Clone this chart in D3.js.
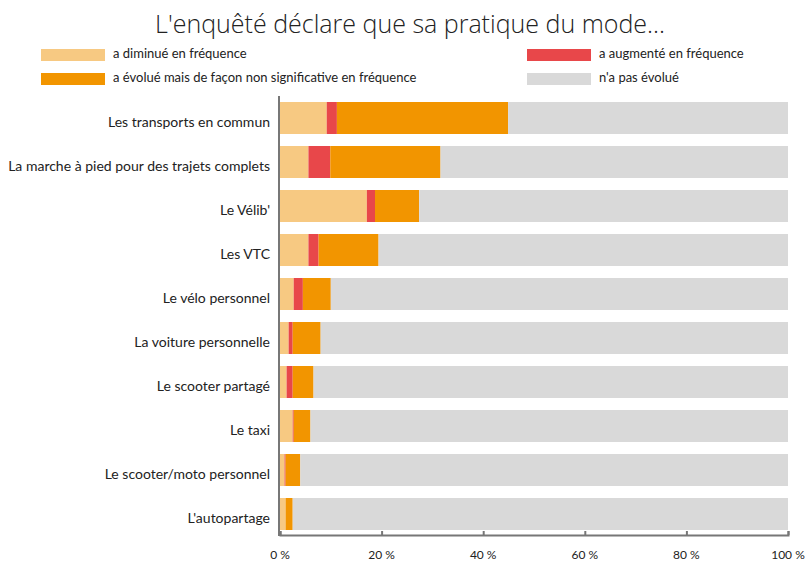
<!DOCTYPE html>
<html>
<head>
<meta charset="utf-8">
<script src="https://cdn.jsdelivr.net/npm/d3@7"></script>
<style>
  body { margin: 0; background: #fff; }
  svg text { font-family: Lato, "Open Sans", sans-serif; fill: #222; }
  .title { font-family: "Open Sans", sans-serif; font-weight: 300; }
</style>
</head>
<body>
<div id="chart"></div>
<script>
const w = 809, h = 561;
const margin = {top: 96, right: 21, bottom: 25, left: 280};

const categories = ["Les transports en commun", "La marche à pied pour des trajets complets", "Le Vélib'", "Les VTC",
  "Le vélo personnel", "La voiture personnelle", "Le scooter partagé", "Le taxi",
  "Le scooter/moto personnel", "L'autopartage"];
const diminue   = [9.2, 5.6, 17.1, 5.6, 2.7, 1.7, 1.3, 2.5, 0.9, 1.1];
const augmente  = [2.0, 4.3, 1.6, 2.0, 1.8, 0.8, 1.2, 0.2, 0.2, 0.0];
const nonSignif = [33.7, 21.7, 8.7, 11.8, 5.5, 5.5, 4.1, 3.3, 2.9, 1.4];
const pasEvolue = [55.1, 68.4, 72.6, 80.6, 90.0, 92.0, 93.4, 94.0, 96.0, 97.5];
const xTicks = [0, 20, 40, 60, 80, 100];

const keys = ["diminue", "augmente", "nonSignif", "pasEvolue"];
const labels = {
  diminue: "a diminué en fréquence",
  augmente: "a augmenté en fréquence",
  nonSignif: "a évolué mais de façon non significative en fréquence",
  pasEvolue: "n'a pas évolué"
};
const color = d3.scaleOrdinal()
                .domain(keys)
                .range(["#f7c982", "#e8474a", "#f29500", "#d9d9d9"]);

const table = categories.map((c, i) => ({
  name: c, diminue: diminue[i], augmente: augmente[i], nonSignif: nonSignif[i], pasEvolue: pasEvolue[i]
}));

const svg = d3.select('#chart')
              .append('svg')
              .attr('width', w)
              .attr('height', h);

svg.append('text')
   .attr('class', 'title')
   .attr('x', 410)
   .attr('y', 33)
   .attr('text-anchor', 'middle')
   .attr('font-size', 25)
   .text("L'enquêté déclare que sa pratique du mode...");

// legend, 2 columns
const legendPos = {
  diminue:   [41, 49],
  augmente:  [527, 49],
  nonSignif: [41, 73],
  pasEvolue: [527, 73]
};
const legend = svg.selectAll('.legend-item')
                  .data(keys)
                  .enter()
                  .append('g')
                  .attr('class', 'legend-item')
                  .attr('transform', d => `translate(${legendPos[d][0]},${legendPos[d][1]})`);
legend.append('rect')
      .attr('width', 64)
      .attr('height', 12)
      .attr('fill', d => color(d));
legend.append('text')
      .attr('x', 72)
      .attr('y', 9)
      .attr('font-size', 13)
      .text(d => labels[d]);

const x = d3.scaleLinear()
            .domain([0, 100])
            .range([margin.left, w - margin.right]);

const y = d3.scaleBand()
            .domain(categories)
            .range([margin.top, h - margin.bottom])
            .paddingInner(12 / 44)
            .paddingOuter(6 / 44);

const series = d3.stack().keys(keys)(table);

svg.append('g')
   .selectAll('g')
   .data(series)
   .enter()
   .append('g')
   .attr('fill', d => color(d.key))
   .selectAll('rect')
   .data(d => d)
   .enter()
   .append('rect')
   .attr('x', d => x(d[0]))
   .attr('y', d => y(d.data.name))
   .attr('width', d => x(d[1]) - x(d[0]))
   .attr('height', y.bandwidth());

// category labels
svg.append('g')
   .selectAll('text')
   .data(categories)
   .enter()
   .append('text')
   .attr('x', margin.left - 10)
   .attr('y', d => y(d) + y.bandwidth() / 2 + 9)
   .attr('text-anchor', 'end')
   .attr('font-size', 14)
   .text(d => d);

// axes
const xAxis = svg.append('g')
   .attr('transform', `translate(0,${h - margin.bottom - 1})`)
   .call(d3.axisTop(x).tickValues(xTicks).tickSize(4).tickFormat(''));
xAxis.selectAll('path, line').attr('stroke', '#777').attr('stroke-width', 2);

svg.append('line')
   .attr('x1', margin.left - 1)
   .attr('x2', margin.left - 1)
   .attr('y1', margin.top)
   .attr('y2', h - margin.bottom)
   .attr('stroke', '#777')
   .attr('stroke-width', 2);

svg.append('g')
   .selectAll('text')
   .data(xTicks)
   .enter()
   .append('text')
   .attr('x', d => x(d))
   .attr('y', 559)
   .attr('text-anchor', 'middle')
   .attr('font-size', 12)
   .text(d => d + ' %');
</script>
</body>
</html>
